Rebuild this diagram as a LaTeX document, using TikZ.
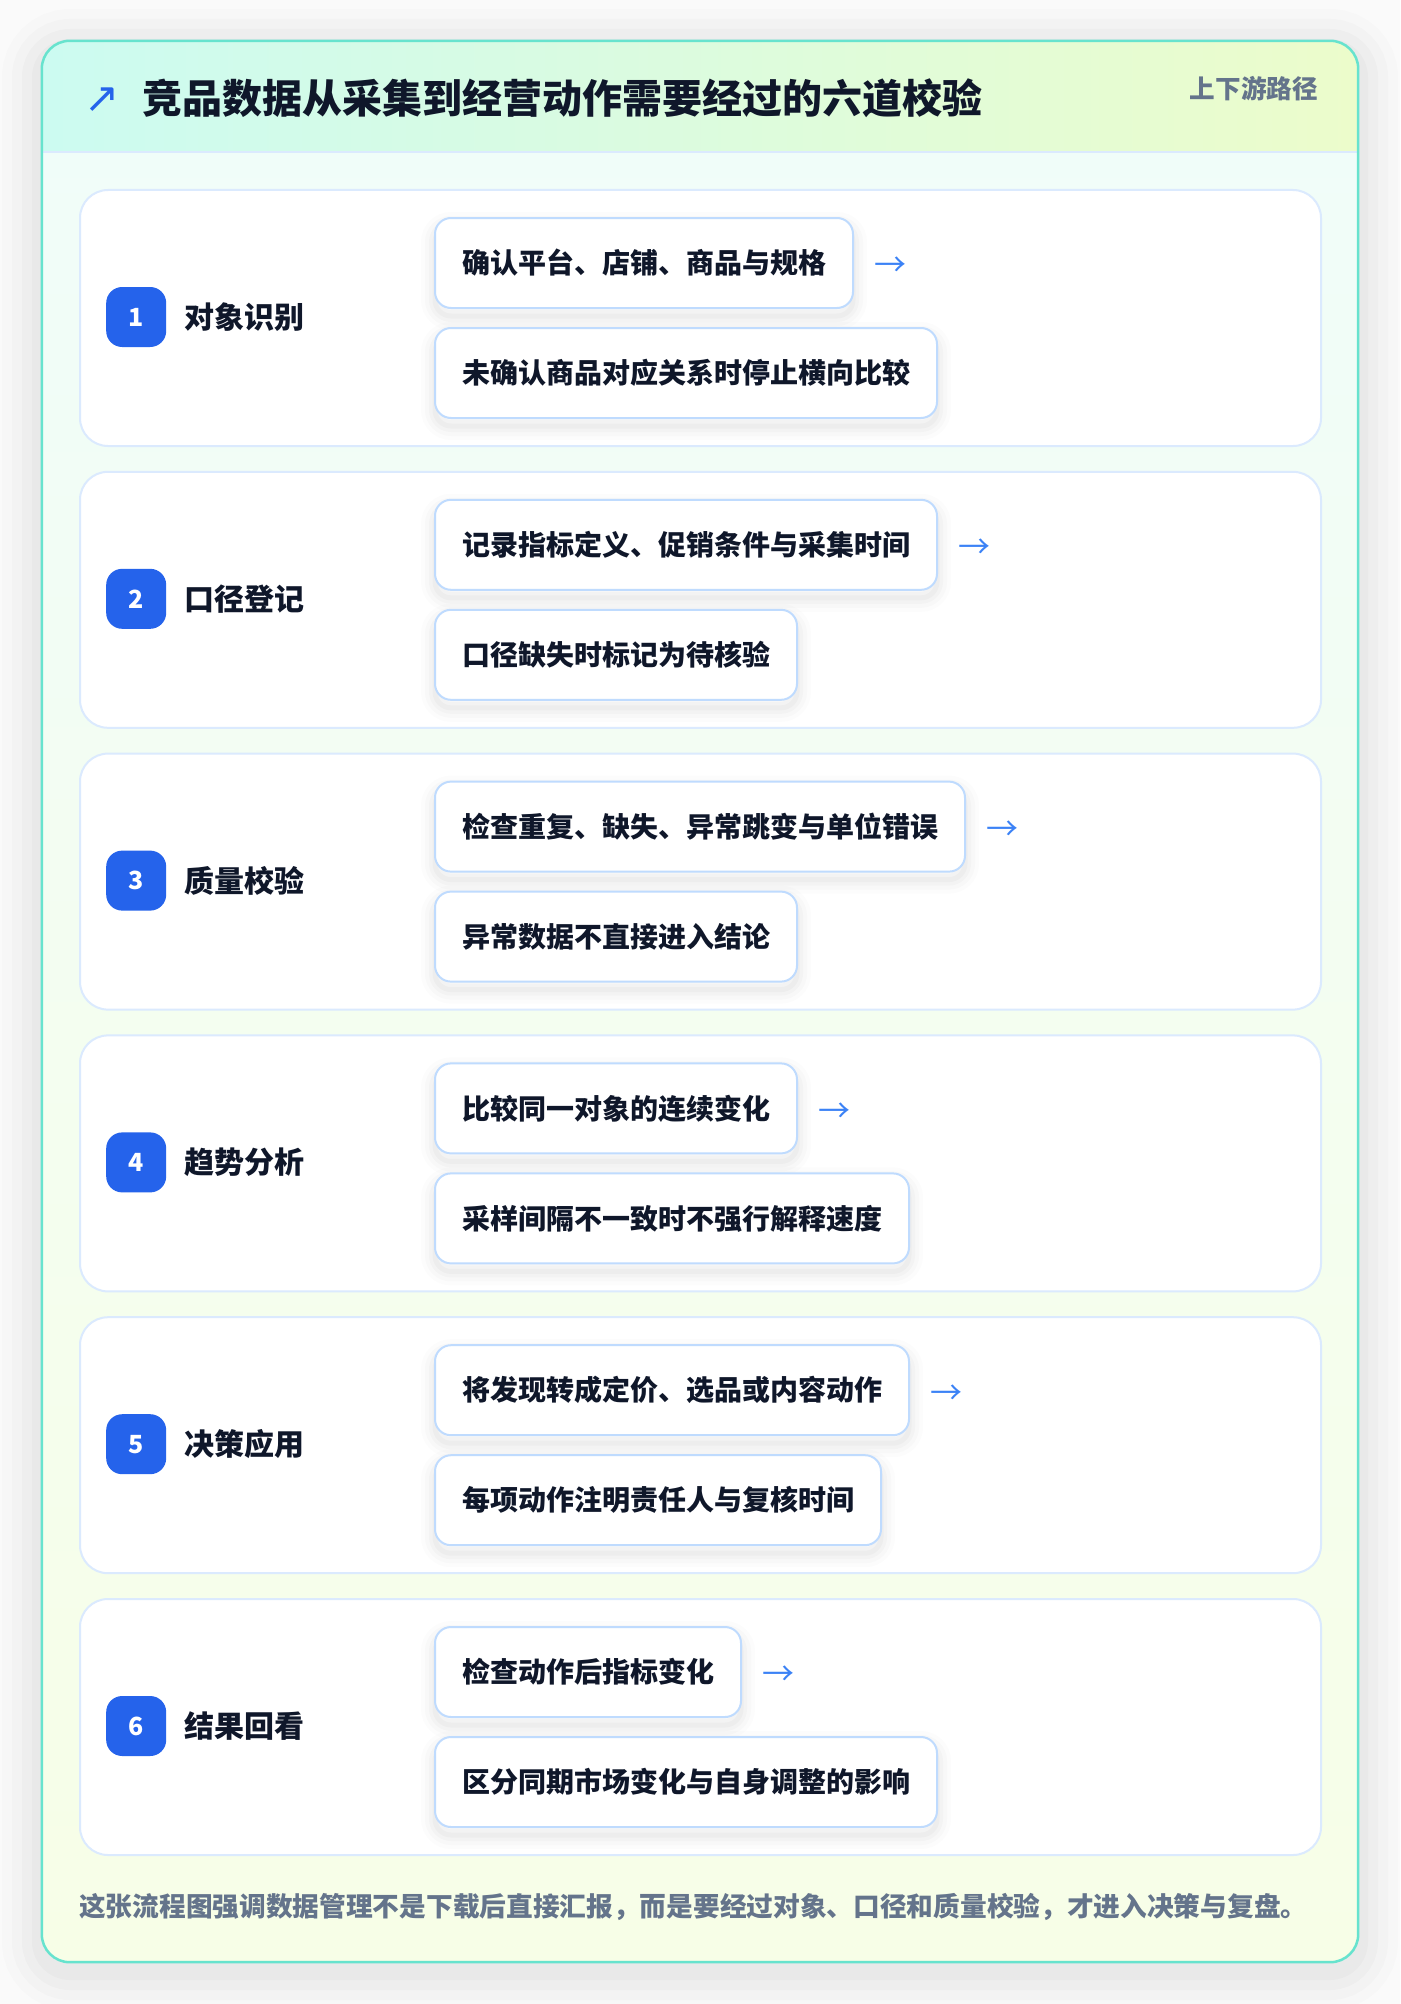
\documentclass[tikz,border=0pt]{standalone}
\usepackage{fontspec}
\setmainfont{Noto Sans CJK SC}
\newfontfamily\symfont{DejaVu Sans}
\usepackage{tikz}
\usetikzlibrary{positioning}

\definecolor{pagebg}{HTML}{FAFAFA}
\definecolor{cardline}{HTML}{67E3CE}
\definecolor{bodytop}{HTML}{F0FDFA}
\definecolor{bodybottom}{HTML}{F7FEE7}
\definecolor{headleft}{HTML}{CCFBF1}
\definecolor{headright}{HTML}{ECFCCB}
\definecolor{stepline}{HTML}{DBEAFE}
\definecolor{checkline}{HTML}{BFDBFE}
\definecolor{badgeblue}{HTML}{2563EB}
\definecolor{arrowblue}{HTML}{3B82F6}
\definecolor{inkdark}{HTML}{0F172A}
\definecolor{inkgray}{HTML}{64748B}

\begin{document}
\begin{tikzpicture}[x=1pt, y=-1pt, font=\bfseries]
        % Setup the styles for the boxes
        \tikzset{shadow ring/.style 2 args={preaction={draw=black, draw opacity=#2,
                                            line width=#1, transform canvas={yshift=-8pt}}},
                 soft shadow/.style={shadow ring={28pt}{0.012}, shadow ring={20pt}{0.015},
                                     shadow ring={12pt}{0.02}, shadow ring={5pt}{0.025}},
                 card shadow/.style={shadow ring={80pt}{0.012}, shadow ring={60pt}{0.015},
                                     shadow ring={40pt}{0.018}, shadow ring={20pt}{0.02}},
                 stepbox/.style={draw=stepline, line width=2pt, fill=white,
                                 rounded corners=28pt,
                                 minimum width=1241pt, minimum height=256pt},
                 badge/.style={fill=badgeblue, rounded corners=16pt,
                               minimum size=60pt, inner sep=0pt, text=white,
                               font=\fontsize{25}{28}\selectfont\bfseries},
                 steplabel/.style={inner sep=0pt, text=inkdark,
                                   font=\fontsize{30}{36}\selectfont\bfseries},
                 checkbox/.style={soft shadow, draw=checkline, line width=2pt, fill=white,
                                  rounded corners=16pt, minimum height=90pt,
                                  inner xsep=27pt, inner ysep=0pt, text=inkdark,
                                  font=\fontsize{28}{34}\selectfont\bfseries},
                 arrowtext/.style={inner sep=0pt, text=arrowblue,
                                   font=\fontsize{32}{36}\selectfont}}

        \useasboundingbox (0,0) rectangle (1400,2004);
        \fill[pagebg] (0,0) rectangle (1400,2004);

        % Draw the card and its header
        \node[card shadow, minimum width=1316pt, minimum height=1921pt, inner sep=0pt,
              rounded corners=28pt, top color=bodytop, bottom color=bodybottom]
            (card) at (700,1001.5) {};
        \begin{scope}
            \clip[rounded corners=28pt] (card.north west) rectangle (card.south east);
            \shade[left color=headleft, right color=headright] (42,41) rectangle (1358,152);
        \end{scope}
        \draw[stepline, line width=2pt] (42,152) -- (1358,152);
        \draw[cardline, line width=2.5pt, rounded corners=28pt]
            (card.north west) rectangle (card.south east);

        \node[inner sep=0pt, text=badgeblue, font=\symfont\fontsize{42}{46}\selectfont]
            (icon) at (102,100) {↗};
        \node[inner sep=0pt, anchor=west, text=inkdark, font=\fontsize{40}{48}\selectfont\bfseries]
            (title) at (142,98) {竞品数据从采集到经营动作需要经过的六道校验};
        \node[inner sep=0pt, anchor=east, text=inkgray, font=\fontsize{25.6}{30}\selectfont\bfseries]
            (tag) at (1318,89) {上下游路径};

        % Draw the six steps
        \foreach \i/\name/\first/\second in {
            1/对象识别/确认平台、店铺、商品与规格/未确认商品对应关系时停止横向比较,
            2/口径登记/记录指标定义、促销条件与采集时间/口径缺失时标记为待核验,
            3/质量校验/检查重复、缺失、异常跳变与单位错误/异常数据不直接进入结论,
            4/趋势分析/比较同一对象的连续变化/采样间隔不一致时不强行解释速度,
            5/决策应用/将发现转成定价、选品或内容动作/每项动作注明责任人与复核时间,
            6/结果回看/检查动作后指标变化/区分同期市场变化与自身调整的影响}
        {
            \pgfmathsetmacro\top{189+(\i-1)*281.8}
            \node[stepbox, anchor=north west] (step\i) at (79,\top) {};
            \node[badge, anchor=west] (badge\i) at (106,\top+128) {\i};
            \node[steplabel, right=18pt of badge\i] (label\i) {\name};
            \node[checkbox, anchor=north west] (check\i) at (434,\top+28) {\first};
            \node[checkbox, anchor=north west] (stop\i) at (434,\top+138) {\second};
            \node[arrowtext, right=20pt of check\i, yshift=-4pt] (arrow\i) {→};
        }

        % Footer note
        \node[inner sep=0pt, anchor=west, text=inkgray, font=\fontsize{26.7}{32}\selectfont\bfseries]
            (note) at (79,1907) {这张流程图强调数据管理不是下载后直接汇报，而是要经过对象、口径和质量校验，才进入决策与复盘。};
\end{tikzpicture}
\end{document}
